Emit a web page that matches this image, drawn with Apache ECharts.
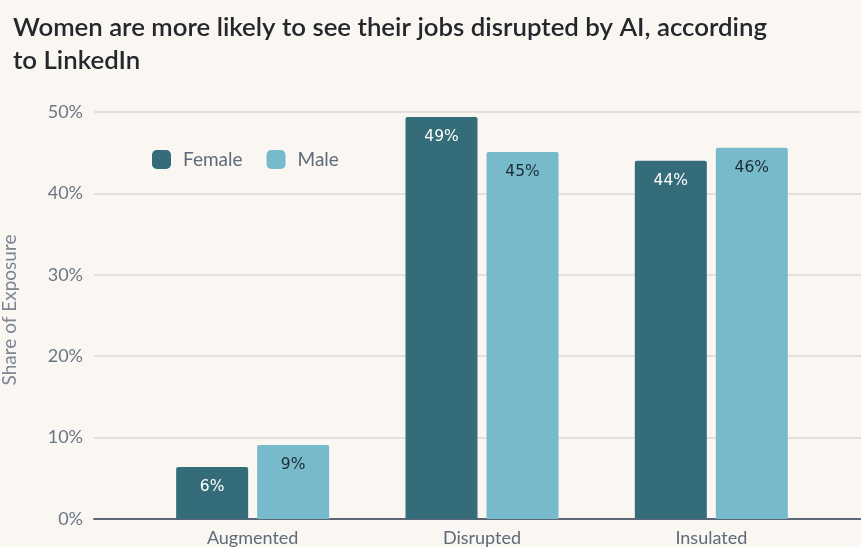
<!DOCTYPE html>
<html><head><meta charset="utf-8">
<script src="https://cdn.jsdelivr.net/npm/echarts@6/dist/echarts.min.js"></script>
<style>html,body{margin:0;padding:0;background:#faf7f3}#c{width:861px;height:547px}</style>
</head><body><div id="c"></div>
<script>
const titleText = "Women are more likely to see their jobs disrupted by AI, according\nto LinkedIn";
const yAxisTitle = "Share of Exposure";
const categories = ["Augmented", "Disrupted", "Insulated"];
const female = [6.4, 49.4, 44.0];
const male = [9.1, 45.1, 45.6];
const femaleLabels = ["6%", "49%", "44%"];
const maleLabels = ["9%", "45%", "46%"];
const yTicks = [0, 10, 20, 30, 40, 50];

const chart = echarts.init(document.getElementById('c'));
const font = 'Lato, "Noto Sans", sans-serif';
chart.setOption({
  backgroundColor: '#faf7f3',
  animation: false,
  title: {
    text: titleText, left: 8, top: 6,
    textStyle: {fontFamily: font, fontSize: 25.8, fontWeight: 600, color: '#24272b', lineHeight: 33}
  },
  graphic: [{
    type: 'text', x: 10, y: 310, rotation: Math.PI / 2,
    style: {text: yAxisTitle, fontFamily: font, fontSize: 19, fill: '#7d8794',
            align: 'center', verticalAlign: 'middle'}
  }],
  legend: {
    left: 147, top: 145, itemWidth: 19, itemHeight: 19, itemGap: 24,
    icon: 'roundRect',
    textStyle: {fontFamily: font, fontSize: 19, color: '#5e6a78', padding: [0, 0, 0, 7]},
    data: ['Female', 'Male']
  },
  grid: [
    {left: 94, right: 0, top: 112, bottom: 28},
    {left: 138, right: 35, top: 112, bottom: 28}
  ],
  xAxis: [
    {gridIndex: 0, type: 'value', min: 0, max: 1, show: true,
     axisLabel: {show: false}, axisTick: {show: false}, splitLine: {show: false},
     axisLine: {show: true, lineStyle: {color: '#5b6677', width: 2}}},
    {gridIndex: 1, type: 'category', data: categories,
     axisLine: {show: false}, axisTick: {show: false},
     axisLabel: {fontFamily: font, fontSize: 18, color: '#5e6a78', margin: 10}}
  ],
  yAxis: [
    {gridIndex: 0, type: 'value', min: 0, max: 50, interval: 10,
     axisLine: {show: false}, axisTick: {show: false},
     axisLabel: {fontFamily: font, fontSize: 18, color: '#6b7683', margin: 11,
       formatter: v => yTicks.includes(v) ? v + '%' : ''},
     splitLine: {lineStyle: {color: '#dcd9d4', width: 1.5}}},
    {gridIndex: 1, type: 'value', min: 0, max: 50, interval: 10, show: false,
     splitLine: {show: false}}
  ],
  series: [
    {name: 'Female', type: 'bar', xAxisIndex: 1, yAxisIndex: 1, data: female,
     barWidth: 72, barGap: '12.5%',
     itemStyle: {color: '#356c79', borderRadius: [2, 2, 0, 0]},
     label: {show: true, position: 'insideTop', distance: 12,
       formatter: p => femaleLabels[p.dataIndex],
       fontFamily: '"DejaVu Sans", sans-serif', fontSize: 15.5, color: '#ffffff'}},
    {name: 'Male', type: 'bar', xAxisIndex: 1, yAxisIndex: 1, data: male,
     barWidth: 72,
     itemStyle: {color: '#77bacc', borderRadius: [2, 2, 0, 0]},
     label: {show: true, position: 'insideTop', distance: 12,
       formatter: p => maleLabels[p.dataIndex],
       fontFamily: '"DejaVu Sans", sans-serif', fontSize: 15.5, color: '#1f2a30'}}
  ]
});
</script></body></html>
